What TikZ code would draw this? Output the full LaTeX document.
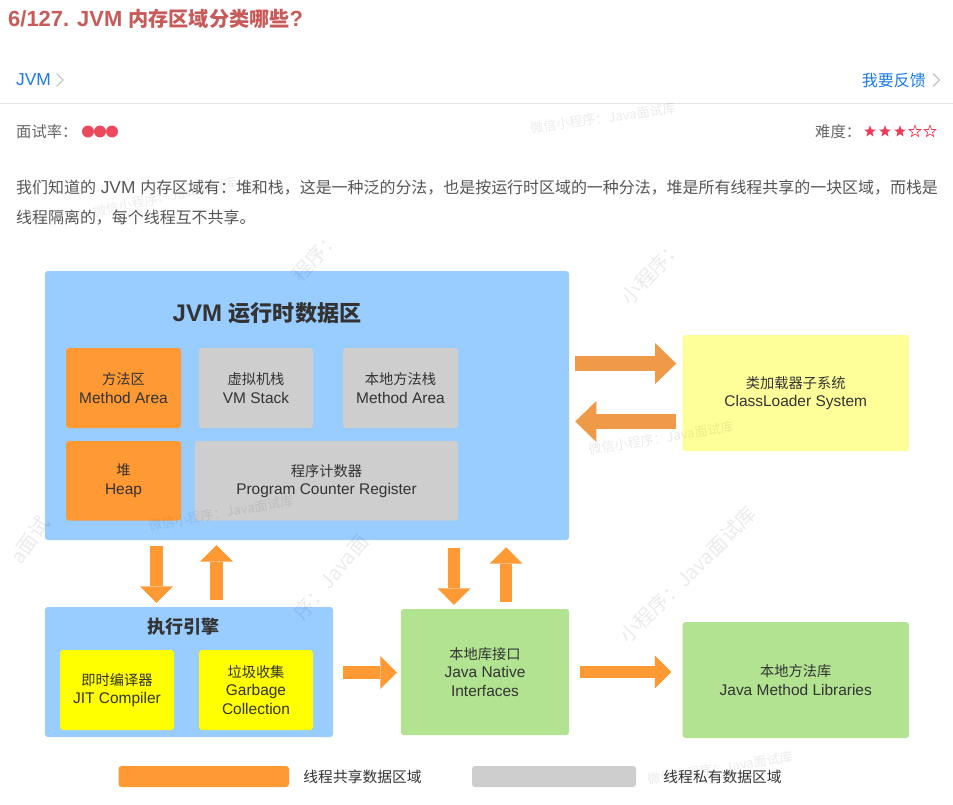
\documentclass[tikz,border=0pt]{standalone}
\usepackage{fontspec}
\setmainfont{Liberation Sans}
\newfontfamily\cjk{Noto Sans CJK SC}[Scale=0.92]
\usetikzlibrary{arrows.meta,calc,shapes.geometric}

\definecolor{titlered}{HTML}{C85A5A}
\definecolor{linkblue}{HTML}{1A7BE6}
\definecolor{chevgrey}{HTML}{C4C4C4}
\definecolor{rulegrey}{HTML}{E4E4E4}
\definecolor{metagrey}{HTML}{666666}
\definecolor{paragrey}{HTML}{555555}
\definecolor{dotred}{HTML}{EB4A5D}
\definecolor{starred}{HTML}{F03B57}
\definecolor{jvmblue}{HTML}{99CCFF}
\definecolor{shared}{HTML}{FF9933}
\definecolor{private}{HTML}{CECECE}
\definecolor{clyellow}{HTML}{FFFF99}
\definecolor{engyellow}{HTML}{FFFF00}
\definecolor{nativegreen}{HTML}{B1E391}
\definecolor{darktext}{HTML}{333333}
\definecolor{arrowor}{HTML}{FF9933}
\definecolor{clarrow}{HTML}{EF9A48}

\newcommand\pxu{0.03cm}

\tikzset{
  box/.style={rounded corners=2.5pt, inner sep=0pt, align=center, text=darktext,
    font=\fontsize{13.2pt}{15.6pt}\selectfont},
  bigarr/.style={draw=clarrow, line width=12pt,
    -{Triangle[width=35pt,length=18pt,line width=0pt]}},
  arr/.style={draw=arrowor, line width=10.5pt,
    -{Triangle[width=28pt,length=14pt,line width=0pt]}},
  chev/.style={draw=chevgrey, line width=1pt},
  meta/.style={inner sep=0pt, text=metagrey, font=\fontsize{14.2pt}{16pt}\selectfont},
  para/.style={inner sep=0pt, text=paragrey, font=\fontsize{14.8pt}{17pt}\selectfont},
  legtxt/.style={inner sep=0pt, text=darktext, font=\fontsize{13.7pt}{16pt}\selectfont},
  star5/.style={star, star points=5, star point ratio=2.4, minimum size=10.5pt,
    inner sep=0pt, line width=0.6pt},
  wm/.style={inner sep=0pt, text=black, text opacity=0.08,
    font=\cjk\fontsize{12.2pt}{14pt}\selectfont},
  wmbig/.style={wm, font=\cjk\fontsize{18.5pt}{20pt}\selectfont}
}

\begin{document}
\begin{tikzpicture}[x=0.03cm, y=-0.03cm]
  \useasboundingbox (0,0) rectangle (953,804);
  \fill[white] (0,0) rectangle (953,804);

  % page header
  \node[anchor=west, inner sep=0pt, text=titlered, font=\bfseries\fontsize{18.7pt}{20pt}\selectfont]
    (title) at (8,19) {6/127. JVM {\cjk 内存区域分类哪些}?};
  \node[anchor=west, inner sep=0pt, text=linkblue, font=\fontsize{14.8pt}{16pt}\selectfont]
    (tag) at (16,80) {JVM};
  \draw[chev] ($(tag.east)+(5.5,-6.5)$) -- ++(6.5,6.5) -- ++(-6.5,6.5);
  \node[anchor=east, inner sep=0pt, text=linkblue, font=\fontsize{14.8pt}{16pt}\selectfont]
    (fb) at (926,80) {\cjk 我要反馈};
  \draw[chev] ($(fb.east)+(7,-6.5)$) -- ++(6.5,6.5) -- ++(-6.5,6.5);
  \draw[rulegrey, line width=0.9pt] (0,103.5) -- (953,103.5);

  \node[meta, anchor=west] (rate) at (16,131.5) {\cjk 面试率：};
  \foreach \x in {88,100,112}
    \fill[dotred] (\x,131.5) circle[radius=5.1pt];
  \node[meta, anchor=west] (diff) at (815,131.5) {\cjk 难度：};
  \foreach \x [count=\i] in {870,885,900}
    \node[star5, fill=starred] (s\i) at (\x,131.5) {};
  \foreach \x [count=\i from 4] in {915,930}
    \node[star5, draw=starred, fill=white] (s\i) at (\x,131.5) {};

  \node[para, anchor=west] (p1) at (16,188) {{\cjk 我们知道的} JVM {\cjk 内存区域有：堆和栈，这是一种泛的分法，也是按运行时区域的一种分法，堆是所有线程共享的一块区域，而栈是}};
  \node[para, anchor=west] (p2) at (16,218) {\cjk 线程隔离的，每个线程互不共享。};

  % runtime data area
  \node[box, fill=jvmblue, minimum width=524*\pxu, minimum height=269*\pxu] (jvm) at (307,405.5) {};
  \node[inner sep=0pt, text=darktext, font=\bfseries\fontsize{20.5pt}{22pt}\selectfont]
    (jvmtitle) at (267,313) {JVM {\cjk 运行时数据区}};
  \node[box, fill=shared, minimum width=115*\pxu, minimum height=80*\pxu] (ma) at (123.5,388) {{\cjk 方法区}\\Method Area};
  \node[box, fill=private, minimum width=114*\pxu, minimum height=80*\pxu] (vms) at (256,388) {{\cjk 虚拟机栈}\\VM Stack};
  \node[box, fill=private, minimum width=115*\pxu, minimum height=80*\pxu] (nms) at (400.5,388) {{\cjk 本地方法栈}\\Method Area};
  \node[box, fill=shared, minimum width=115*\pxu, minimum height=79.5*\pxu] (heap) at (123.5,480.75) {{\cjk 堆}\\Heap};
  \node[box, fill=private, minimum width=263*\pxu, minimum height=79.5*\pxu] (pcr) at (326.5,480.75) {{\cjk 程序计数器}\\Program Counter Register};

  \node[box, fill=clyellow, minimum width=226.5*\pxu, minimum height=116*\pxu] (cls) at (795.75,393) {{\cjk 类加载器子系统}\\ClassLoader System};

  % execution engine
  \node[box, fill=jvmblue, minimum width=288*\pxu, minimum height=130*\pxu] (exe) at (189,672) {};
  \node[inner sep=0pt, text=darktext, font=\bfseries\fontsize{16.7pt}{18pt}\selectfont]
    (exetitle) at (183,627) {\cjk 执行引擎};
  \node[box, fill=engyellow, minimum width=114*\pxu, minimum height=80*\pxu] (jit) at (117,690) {{\cjk 即时编译器}\\JIT Compiler};
  \node[box, fill=engyellow, minimum width=114*\pxu, minimum height=80*\pxu] (gc) at (256,690) {{\cjk 垃圾收集}\\Garbage\\Collection};

  \node[box, fill=nativegreen, minimum width=168*\pxu, minimum height=126*\pxu] (jni) at (485,672) {{\cjk 本地库接口}\\Java Native\\Interfaces};
  \node[box, fill=nativegreen, minimum width=226.5*\pxu, minimum height=116*\pxu] (jml) at (795.75,680) {{\cjk 本地方法库}\\Java Method Libraries};

  % arrows
  \draw[bigarr] ($(jvm.east)+(6,-42)$) -- ($(cls.west)+(-6,-29.5)$);
  \draw[bigarr] ($(cls.west)+(-6,28.5)$) -- ($(jvm.east)+(6,16)$);
  \draw[arr] ($(jvm.south)+(-150.5,6)$) -- ($(exe.north)+(-32.5,-4)$);
  \draw[arr] ($(exe.north)+(27.5,-7)$) -- ($(jvm.south)+(-90.5,5)$);
  \draw[arr] ($(jvm.south)+(147,8)$) -- ($(jni.north)+(-31,-4)$);
  \draw[arr] ($(jni.north)+(21,-7)$) -- ($(jvm.south)+(199,7)$);
  \draw[arr] ($(exe.east)+(10,0.5)$) -- ($(jni.west)+(-4,0.5)$);
  \draw[arr] ($(jni.east)+(11,0)$) -- ($(jml.west)+(-11,-8)$);

  % legend
  \node[box, fill=shared, minimum width=170.5*\pxu, minimum height=21*\pxu] (lshared) at (203.75,776.5) {};
  \node[legtxt, anchor=west] (tshared) at ($(lshared.east)+(14,0.5)$) {\cjk 线程共享数据区域};
  \node[box, fill=private, minimum width=164*\pxu, minimum height=21*\pxu] (lpriv) at (554,776.5) {};
  \node[legtxt, anchor=west] (tpriv) at ($(lpriv.east)+(27,0.5)$) {\cjk 线程私有数据区域};

  % watermarks
  \node[wm, rotate=8] (wm1) at (603,118) {微信小程序：Java面试库};
  \node[wm, rotate=12] (wm2) at (165,197) {微信小程序：Java面试库};
  \node[wm, rotate=9] (wm3) at (661,438) {微信小程序：Java面试库};
  \node[wm, rotate=10] (wm4) at (221,513) {微信小程序：Java面试库};
  \node[wm, rotate=9] (wm5) at (720,768) {微信小程序：Java面试库};
  \node[wmbig, rotate=48] (wm6) at (652,272) {小程序：};
  \node[wmbig, rotate=48] (wm7) at (316,256) {程序：};
  \node[wmbig, rotate=45] (wm8) at (688,575) {小程序：Java面试库};
  \node[wmbig, rotate=50] (wm9) at (331,577) {序：Java面};
  \node[wmbig, rotate=55] (wm10) at (30,540) {a面试};
\end{tikzpicture}
\end{document}
